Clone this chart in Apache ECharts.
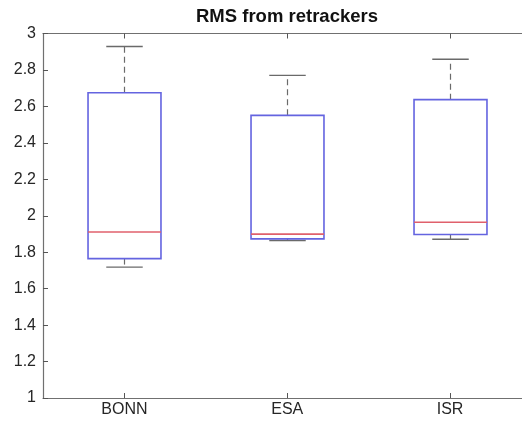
<!DOCTYPE html>
<html>
<head>
<meta charset="utf-8">
<script src="https://cdn.jsdelivr.net/npm/echarts@6/dist/echarts.min.js"></script>
<style>
html,body{margin:0;padding:0;background:#fff;overflow:hidden;width:522px;height:421px;}
#c{width:532px;height:421px;}
</style>
</head>
<body>
<div id="c"></div>
<script>
const categories = ['BONN', 'ESA', 'ISR'];
const lowerWhisker = [1.718, 1.864, 1.871];
const q1 = [1.765, 1.873, 1.897];
const medians = [1.911, 1.899, 1.964];
const q3 = [2.675, 2.551, 2.637];
const upperWhisker = [2.929, 2.770, 2.859];
const yTicks = { min: 1, max: 3, interval: 0.2 };

const data = categories.map((c, i) => [i, lowerWhisker[i], q1[i], medians[i], q3[i], upperWhisker[i]]);

const chart = echarts.init(document.getElementById('c'), null, { renderer: 'canvas' });
const font = 'Liberation Sans, Arial, Helvetica, sans-serif';
const axisColor = '#707070';

function renderItem(params, api) {
  const x = api.value(0);
  const pLow = api.coord([x, api.value(1)]);
  const pQ1 = api.coord([x, api.value(2)]);
  const pMed = api.coord([x, api.value(3)]);
  const pQ3 = api.coord([x, api.value(4)]);
  const pHigh = api.coord([x, api.value(5)]);
  const band = api.size([1, 0])[0];
  const bw = band * 0.448;
  const cw = bw / 2;
  const cx = Math.round(pQ1[0]) + 0.5;
  const dash = { stroke: '#6a6a6a', lineWidth: 1.2, lineDash: [6, 4] };
  const cap = { stroke: '#6a6a6a', lineWidth: 1.4 };
  return {
    type: 'group',
    children: [
      { type: 'line', shape: { x1: cx, y1: pQ3[1], x2: cx, y2: pHigh[1] }, style: dash },
      { type: 'line', shape: { x1: cx, y1: pQ1[1], x2: cx, y2: pLow[1] }, style: dash },
      { type: 'line', shape: { x1: cx - cw / 2, y1: pHigh[1], x2: cx + cw / 2, y2: pHigh[1] }, style: cap },
      { type: 'line', shape: { x1: cx - cw / 2, y1: pLow[1], x2: cx + cw / 2, y2: pLow[1] }, style: cap },
      { type: 'rect', shape: { x: cx - bw / 2, y: pQ3[1], width: bw, height: pQ1[1] - pQ3[1] },
        style: { fill: 'none', stroke: '#6464e0', lineWidth: 1.6 } },
      { type: 'line', shape: { x1: cx - bw / 2, y1: pMed[1], x2: cx + bw / 2, y2: pMed[1] },
        style: { stroke: '#e0606c', lineWidth: 1.6 } }
    ]
  };
}

chart.setOption({
  animation: false,
  backgroundColor: '#ffffff',
  title: {
    text: 'RMS from retrackers',
    left: 287, textAlign: 'center', top: 7, padding: 0,
    textStyle: { fontFamily: font, fontSize: 18.5, fontWeight: 'bold', color: '#111' }
  },
  grid: { left: 43, top: 33.5, bottom: 23, right: 0.5, containLabel: false },
  xAxis: [{
    type: 'category', data: categories, position: 'bottom', boundaryGap: true,
    axisLine: { lineStyle: { color: axisColor, width: 1.2 } },
    axisTick: { show: true, inside: true, length: 5, alignWithLabel: true, interval: 0, lineStyle: { color: '#555', width: 1 } },
    axisLabel: { fontFamily: font, fontSize: 16, color: '#262626', margin: 4 },
    splitLine: { show: false }
  }, {
    type: 'category', data: categories, position: 'top', boundaryGap: true,
    axisLine: { lineStyle: { color: axisColor, width: 1.2 } },
    axisTick: { show: true, inside: true, length: 5, alignWithLabel: true, interval: 0, lineStyle: { color: '#555', width: 1 } },
    axisLabel: { show: false },
    splitLine: { show: false }
  }],
  yAxis: {
    type: 'value', min: yTicks.min, max: yTicks.max, interval: yTicks.interval,
    axisLine: { show: true, lineStyle: { color: axisColor, width: 1.2 } },
    axisTick: { show: true, inside: true, length: 5, lineStyle: { color: '#555', width: 1 } },
    axisLabel: { fontFamily: font, fontSize: 16, color: '#262626', margin: 7 },
    splitLine: { show: false }
  },
  series: [{
    type: 'custom',
    renderItem: renderItem,
    data: data,
    encode: { x: 0, y: [1, 2, 3, 4, 5] },
    clip: false
  }]
});
</script>
</body>
</html>
